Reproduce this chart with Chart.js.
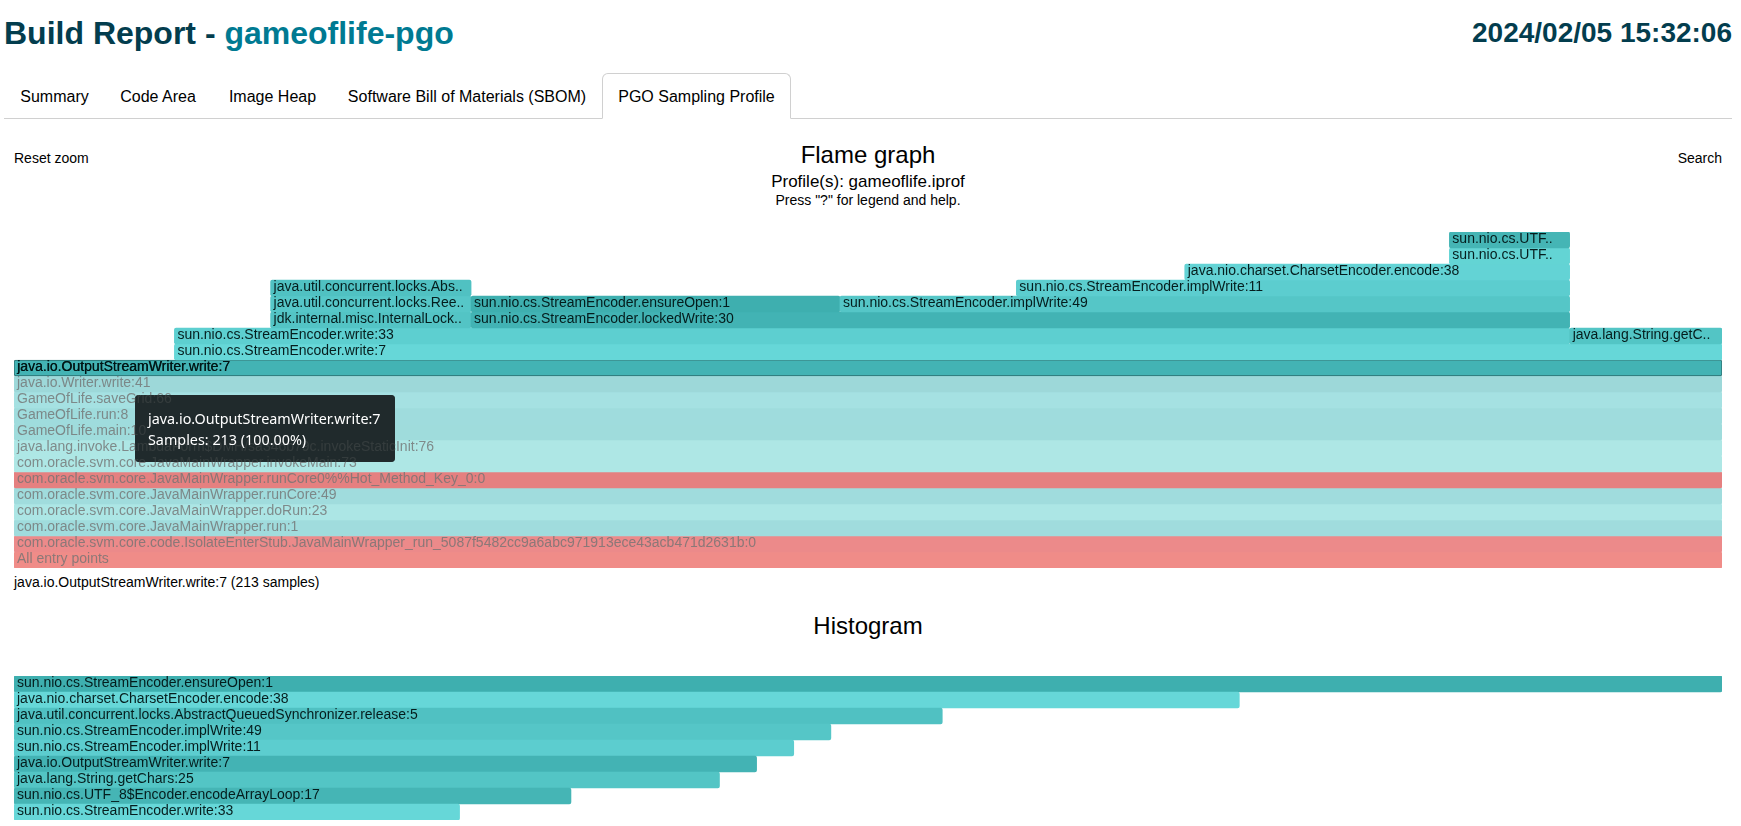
<!DOCTYPE html>
<html>
<head>
<meta charset="utf-8">
<title>Build Report - gameoflife-pgo</title>
<script src="https://cdn.jsdelivr.net/npm/chart.js@4"></script>
<style>
  html, body { margin: 0; padding: 0; background: #fff; }
  body { width: 1741px; height: 826px; position: relative; overflow: hidden; font-family: "Liberation Sans", Arial, sans-serif; color: #000; }
  .abs { position: absolute; white-space: nowrap; }
  h1 { margin: 0; font-size: 32px; font-weight: bold; color: #033d4e; line-height: 38px; }
  h1 span { color: #007a92; }
  .tabs { position: absolute; left: 4px; top: 73px; width: 1728px; height: 45px; border-bottom: 1px solid #d0d0d0; }
  .tab { position: absolute; top: 0; height: 45px; line-height: 48px; font-size: 16px; text-align: center; }
  .tab.active { background: #fff; border: 1px solid #d0d0d0; border-bottom: 1px solid #fff; border-radius: 6px 6px 0 0; box-sizing: border-box; height: 46px; line-height: 46px; }
  .center { left: 0; width: 1736px; text-align: center; }
  .chartBox { position: absolute; left: 13px; width: 1710px; }
  #tip { left: 135px; top: 395px; width: 260px; height: 67px; box-sizing: border-box; padding: 13px 13px; color: #fff; font-family: "Noto Sans", sans-serif; font-size: 14.35px; line-height: 21px; }
</style>
</head>
<body>
<h1 class="abs" style="left:4px;top:14px">Build Report - <span>gameoflife-pgo</span></h1>
<h1 class="abs" style="right:9px;top:14px;font-size:28px">2024/02/05 15:32:06</h1>

<div class="tabs">
  <div class="tab" style="left:0;width:101px">Summary</div>
  <div class="tab" style="left:101px;width:106px">Code Area</div>
  <div class="tab" style="left:207px;width:123px">Image Heap</div>
  <div class="tab" style="left:330px;width:266px">Software Bill of Materials (SBOM)</div>
  <div class="tab active" style="left:598px;width:189px">PGO Sampling Profile</div>
</div>

<div class="abs" style="left:14px;top:150px;font-size:14px">Reset zoom</div>
<div class="abs" style="right:19px;top:150px;font-size:14px">Search</div>
<div class="abs center" style="top:141px;font-size:24px">Flame graph</div>
<div class="abs center" style="top:172px;font-size:17px">Profile(s): gameoflife.iprof</div>
<div class="abs center" style="top:192px;font-size:14px">Press "?" for legend and help.</div>

<div class="chartBox" style="top:232px;height:336px"><canvas id="flame"></canvas></div>
<div class="abs" style="left:14px;top:574px;font-size:14px">java.io.OutputStreamWriter.write:7 (213 samples)</div>
<div class="abs center" style="top:612px;font-size:24px">Histogram</div>
<div class="chartBox" style="top:676px;height:144px"><canvas id="hist"></canvas></div>

<div class="abs" id="tip">java.io.OutputStreamWriter.write:7<br>Samples: 213 (100.00%)</div>

<script>
// flame graph frames, depth 0 is the bottom row
const flameNames = [
  'All entry points',
  'com.oracle.svm.core.code.IsolateEnterStub.JavaMainWrapper_run_5087f5482cc9a6abc971913ece43acb471d2631b:0',
  'com.oracle.svm.core.JavaMainWrapper.run:1',
  'com.oracle.svm.core.JavaMainWrapper.doRun:23',
  'com.oracle.svm.core.JavaMainWrapper.runCore:49',
  'com.oracle.svm.core.JavaMainWrapper.runCore0%%Hot_Method_Key_0:0',
  'com.oracle.svm.core.JavaMainWrapper.invokeMain:73',
  'java.lang.invoke.LambdaForm$DMH/sa346b79c.invokeStaticInit:76',
  'GameOfLife.main:10',
  'GameOfLife.run:8',
  'GameOfLife.saveGrid:66',
  'java.io.Writer.write:41',
  'java.io.OutputStreamWriter.write:7',
  'sun.nio.cs.StreamEncoder.write:7',
  'sun.nio.cs.StreamEncoder.write:33',
  'java.lang.String.getC..',
  'jdk.internal.misc.InternalLock..',
  'sun.nio.cs.StreamEncoder.lockedWrite:30',
  'java.util.concurrent.locks.Ree..',
  'sun.nio.cs.StreamEncoder.ensureOpen:1',
  'sun.nio.cs.StreamEncoder.implWrite:49',
  'java.util.concurrent.locks.Abs..',
  'sun.nio.cs.StreamEncoder.implWrite:11',
  'java.nio.charset.CharsetEncoder.encode:38',
  'sun.nio.cs.UTF..',
  'sun.nio.cs.UTF..'
];
const flameDepth = [0, 1, 2, 3, 4, 5, 6, 7, 8, 9, 10, 11, 12, 13, 14, 14, 15, 15, 16, 16, 16, 17, 17, 18, 19, 20];
const flameStart = [0, 0, 0, 0, 0, 0, 0, 0, 0, 0, 0, 0, 0, 20, 20, 194, 32, 57, 32, 57, 103, 32, 125, 146, 179, 179];
const flameEnd = [213, 213, 213, 213, 213, 213, 213, 213, 213, 213, 213, 213, 213, 213, 194, 213, 57, 194, 57, 103, 194, 57, 194, 194, 194, 194];
const flameColors = [
  '#f08c88', '#ec8a8a', '#a0dcdd', '#ace6e5', '#a0dcdd', '#e58080', '#aee7e5', '#aee7e5', '#9fdcdc', '#9fdcdd', '#a5e1e2',
  '#9dd8d9', '#43b3b4', '#66d7d8', '#5dcfd0', '#53c5c5', '#53c4c5', '#42b3b4', '#56c7c8', '#3eafaf', '#55c6c7', '#50c1c2',
  '#5ccdcf', '#63d3d5', '#63d4d4', '#45b5b5'
];
const fadedRows = 12; // frames below the zoomed one are greyed out
const selectedRow = 12;

const histNames = [
  'sun.nio.cs.StreamEncoder.ensureOpen:1',
  'java.nio.charset.CharsetEncoder.encode:38',
  'java.util.concurrent.locks.AbstractQueuedSynchronizer.release:5',
  'sun.nio.cs.StreamEncoder.implWrite:49',
  'sun.nio.cs.StreamEncoder.implWrite:11',
  'java.io.OutputStreamWriter.write:7',
  'java.lang.String.getChars:25',
  'sun.nio.cs.UTF_8$Encoder.encodeArrayLoop:17',
  'sun.nio.cs.StreamEncoder.write:33'
];
const histSamples = [46, 33, 25, 22, 21, 20, 19, 15, 12];
const histColors = ['#3eafaf', '#66d7d8', '#50c1c2', '#55c6c7', '#5ccdcf', '#43b3b4', '#53c5c5', '#45b5b5', '#66d7d8'];

// writes the frame name inside every bar
// the hover box goes under the names, and a thin veil on top dims what shows through it
const barLabels = {
  id: 'barLabels',
  afterDatasetsDraw(chart, args, opts) {
    const ctx = chart.ctx;
    const meta = chart.getDatasetMeta(0);
    const box = opts.box;
    ctx.save();
    if (box) {
      ctx.fillStyle = '#212b2c';
      ctx.beginPath();
      ctx.roundRect(box.x, box.y, box.w, box.h, 4);
      ctx.fill();
    }
    ctx.font = '14px "Liberation Sans"';
    ctx.textBaseline = 'middle';
    meta.data.forEach((bar, i) => {
      const left = Math.min(bar.base, bar.x);
      const faded = opts.faded && opts.faded(i);
      ctx.fillStyle = faded ? 'rgba(115,115,115,0.8)' : 'rgba(0,20,20,0.95)';
      ctx.fillText(opts.names[i], left + 3, bar.y - 0.5);
      if (opts.selected === i) ctx.fillText(opts.names[i], left + 3.4, bar.y - 0.5);
    });
    if (box) {
      ctx.fillStyle = 'rgba(33,43,44,0.7)';
      ctx.beginPath();
      ctx.roundRect(box.x, box.y, box.w, box.h, 4);
      ctx.fill();
    }
    ctx.restore();
  }
};

function hiddenScales(maxX, reverseY) {
  return {
    x: { type: 'linear', min: 0, max: maxX, display: false },
    y: { type: 'category', display: false, reverse: reverseY }
  };
}

const depthLabels = [];
for (let d = 0; d <= 20; d++) depthLabels.push(String(d));

new Chart(document.getElementById('flame'), {
  type: 'bar',
  plugins: [barLabels],
  data: {
    labels: depthLabels,
    datasets: [{
      data: flameNames.map((n, i) => ({ x: [flameStart[i], flameEnd[i]], y: String(flameDepth[i]) })),
      backgroundColor: flameColors,
      borderColor: flameColors.map((c, i) => i === selectedRow ? '#2b6f70' : c),
      borderWidth: flameColors.map((c, i) => i === selectedRow ? 1 : 0),
      borderSkipped: false,
      borderRadius: 2,
      barPercentage: 1,
      categoryPercentage: 1
    }]
  },
  options: {
    indexAxis: 'y',
    responsive: true,
    maintainAspectRatio: false,
    animation: false,
    events: [],
    layout: { padding: { left: 1, right: 1 } },
    scales: hiddenScales(213, true),
    plugins: {
      legend: { display: false },
      tooltip: { enabled: false },
      barLabels: {
        names: flameNames,
        selected: selectedRow,
        faded: i => i < fadedRows,
        box: { x: 122, y: 163, w: 260, h: 67 }
      }
    }
  }
});

new Chart(document.getElementById('hist'), {
  type: 'bar',
  plugins: [barLabels],
  data: {
    labels: histNames,
    datasets: [{
      data: histSamples.map(v => [0, v]),
      backgroundColor: histColors,
      borderSkipped: false,
      borderRadius: 2,
      barPercentage: 1,
      categoryPercentage: 1
    }]
  },
  options: {
    indexAxis: 'y',
    responsive: true,
    maintainAspectRatio: false,
    animation: false,
    events: [],
    layout: { padding: { left: 1, right: 1 } },
    scales: hiddenScales(46, false),
    plugins: {
      legend: { display: false },
      tooltip: { enabled: false },
      barLabels: { names: histNames }
    }
  }
});
</script>
</body>
</html>
